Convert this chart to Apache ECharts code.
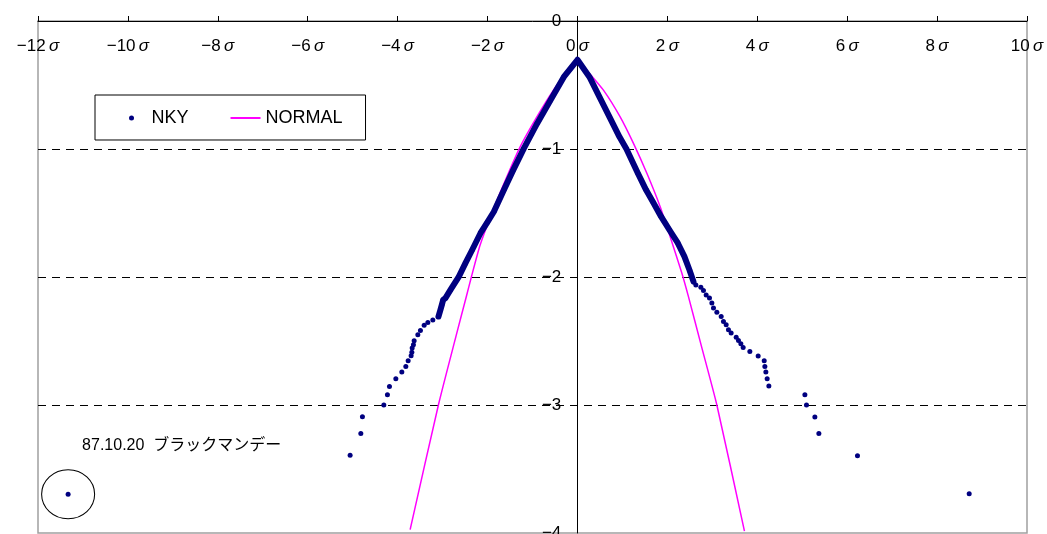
<!DOCTYPE html>
<html>
<head>
<meta charset="utf-8">
<script src="https://cdn.jsdelivr.net/npm/echarts@6/dist/echarts.min.js"></script>
<style>
html, body { margin: 0; padding: 0; background: #fff; }
#main { width: 1047px; height: 534px; }
</style>
</head>
<body>
<div id="main"></div>
<script>
// NKY: dense central band (read along the band)
var nkyCoreX = [-3.092, -3.048, -3.017, -2.988, -2.937, -2.825, -2.638, -2.492, -2.343, -2.158, -2.009, -1.860, -1.637, -1.430, -1.192, -0.897, -0.601, -0.303, 0,
                0.267, 0.489, 0.712, 0.934, 1.090, 1.344, 1.528, 1.677, 1.862, 2.047, 2.234, 2.380, 2.492, 2.581];
var nkyCoreY = [-2.309, -2.257, -2.218, -2.179, -2.165, -2.101, -1.997, -1.892, -1.789, -1.658, -1.575, -1.490, -1.321, -1.165, -0.995, -0.800, -0.619, -0.437, -0.303,
                -0.437, -0.593, -0.749, -0.905, -1.000, -1.190, -1.321, -1.412, -1.529, -1.633, -1.736, -1.841, -1.945, -2.036];
// NKY: separate points in the tails
var nkyTailX = [-3.217, -3.328, -3.410, -3.493, -3.551, -3.633, -3.649, -3.677, -3.684, -3.700, -3.766, -3.818, -3.907, -4.040, -4.182, -4.227, -4.307, -4.783, -4.819, -5.057, -11.33,
                2.634, 2.745, 2.803, 2.863, 2.937, 2.990, 3.026, 3.101, 3.197, 3.248, 3.308, 3.359, 3.419, 3.531, 3.582, 3.635, 3.686, 3.835, 4.020, 4.154, 4.169, 4.191, 4.220, 4.258, 5.059, 5.095, 5.281, 5.370, 6.229, 8.714];
var nkyTailY = [-2.335, -2.356, -2.376, -2.418, -2.452, -2.498, -2.530, -2.555, -2.587, -2.615, -2.654, -2.699, -2.743, -2.795, -2.855, -2.920, -3.000, -3.091, -3.222, -3.393, -3.697,
                -2.062, -2.080, -2.106, -2.140, -2.165, -2.204, -2.243, -2.275, -2.309, -2.348, -2.374, -2.413, -2.438, -2.470, -2.496, -2.522, -2.551, -2.582, -2.618, -2.654, -2.699, -2.743, -2.795, -2.852, -2.920, -3.000, -3.094, -3.222, -3.396, -3.694];
// NORMAL curve
var normalX = [-3.722, -3.092, -2.700, -2.470, -2.360, -2.165, -1.869, -1.571, -1.275, -0.903, -0.534, -0.236, 0,
               0.209, 0.578, 0.950, 1.246, 1.544, 1.840, 2.062, 2.323, 2.469, 2.750, 3.101, 3.715];
var normalY = [-3.973, -2.998, -2.460, -2.150, -2.000, -1.750, -1.470, -1.217, -0.983, -0.749, -0.540, -0.398, -0.300,
               -0.385, -0.540, -0.749, -0.956, -1.190, -1.451, -1.685, -1.970, -2.153, -2.530, -3.000, -3.986];

var blackMonday = [-11.33, -3.697];
var blackMondayLabel = '87.10.20  ブラックマンデー';

function pairs(xs, ys) {
    return xs.map(function (x, i) { return [x, ys[i]]; });
}
function minus(v) {
    return v < 0 ? '\u2212' + Math.abs(v) : String(v);
}

var font = "'Liberation Sans', 'Noto Sans CJK JP', sans-serif";
var myChart = echarts.init(document.getElementById('main'));

var option = {
    animation: false,
    textStyle: { fontFamily: font, color: '#000' },
    grid: {
        left: 38,
        right: 20,
        top: 21,
        bottom: 1,
        containLabel: false,
        outerBoundsMode: 'none',
        show: true,
        borderColor: '#a0a0a0',
        borderWidth: 1.5
    },
    legend: {
        left: 95,
        top: 95,
        padding: [14, 23, 13, 34],
        borderColor: '#000',
        borderWidth: 1,
        itemWidth: 30,
        itemHeight: 5,
        itemGap: 41,
        selectedMode: false,
        textStyle: { fontSize: 18, color: '#000', fontFamily: font },
        data: [{ name: 'NKY', icon: 'circle' }, { name: 'NORMAL', itemStyle: { opacity: 0 } }]
    },
    xAxis: {
        type: 'value',
        position: 'top',
        min: -12,
        max: 10,
        interval: 2,
        axisLine: { onZero: false, lineStyle: { color: '#000', width: 1 } },
        axisTick: { show: true, length: 5, lineStyle: { color: '#000' } },
        axisLabel: {
            inside: true,
            margin: 17,
            formatter: function (v) { return '{n|' + minus(v) + '} {s|σ}'; },
            rich: {
                n: { fontSize: 17, color: '#000', fontFamily: font },
                s: { fontSize: 17, color: '#000', fontFamily: font, fontStyle: 'italic' }
            }
        },
        splitLine: { show: false }
    },
    yAxis: {
        type: 'value',
        position: 'left',
        offset: -539.3,   // y軸を x=0 の位置へ
        min: -4,
        max: 0,
        interval: 1,
        axisLine: { onZero: false, lineStyle: { color: '#000', width: 1 } },
        axisTick: { show: false },
        axisLabel: {
            margin: 16,
            fontSize: 17,
            color: '#000',
            fontFamily: font,
            formatter: minus
        },
        splitLine: {
            show: true,
            showMinLine: false,
            showMaxLine: false,
            lineStyle: { color: '#000', width: 1, type: [8, 6] }
        }
    },
    series: [{
        name: 'NKY',
        type: 'scatter',
        symbol: 'circle',
        symbolSize: 5,
        itemStyle: { color: '#000080', opacity: 1 },
        data: pairs(nkyCoreX, nkyCoreY).concat(pairs(nkyTailX, nkyTailY)),
        z: 4,
        markPoint: {
            silent: true,
            symbol: 'circle',
            symbolSize: [53, 49],
            itemStyle: { color: 'rgba(0,0,0,0)', borderColor: '#000', borderWidth: 1 },
            label: {
                show: true,
                position: [41, -24],
                align: 'left',
                verticalAlign: 'middle',
                fontSize: 16,
                color: '#000',
                fontFamily: font,
                formatter: blackMondayLabel
            },
            data: [{ coord: blackMonday }]
        }
    }, {
        name: 'NKY',
        type: 'line',
        symbol: 'none',
        lineStyle: { color: '#000080', width: 6, cap: 'round', join: 'round' },
        itemStyle: { color: '#000080' },
        data: pairs(nkyCoreX, nkyCoreY),
        z: 4
    }, {
        name: 'NORMAL',
        type: 'line',
        symbol: 'none',
        smooth: 0.2,
        lineStyle: { color: '#ff00ff', width: 1.5 },
        itemStyle: { color: '#ff00ff' },
        data: pairs(normalX, normalY),
        z: 3
    }]
};
myChart.setOption(option, true);
</script>
</body>
</html>
